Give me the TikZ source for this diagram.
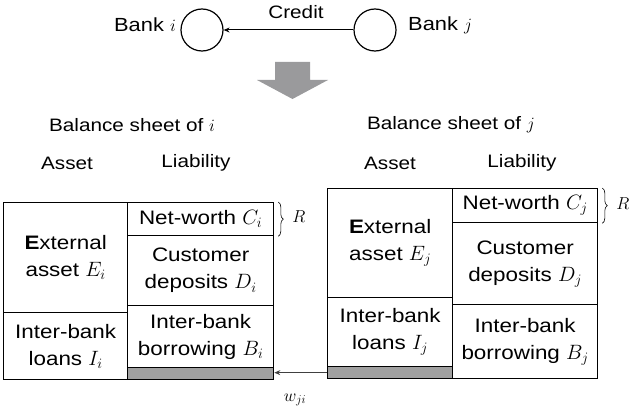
\documentclass[tikz,border=0pt]{standalone}
\usepackage{fontspec}
\setmainfont{Liberation Sans}
\newfontfamily\cellfont{Liberation Sans}[FakeStretch=1.15]
\usetikzlibrary{decorations.pathreplacing,arrows.meta}
\definecolor{band}{HTML}{A0A0A0}
\definecolor{bigarrow}{HTML}{9A9A9C}
\begin{document}
\begin{tikzpicture}[x=1pt,y=-1pt,
  lbl/.style={font=\cellfont\fontsize{18}{21}\selectfont, inner sep=0pt},
  banklbl/.style={font=\cellfont\fontsize{19}{22}\selectfont, inner sep=0pt},
  bank/.style={draw=black, line width=1.2pt, circle, minimum size=42pt, inner sep=0pt},
  cell/.style={draw=black, line width=1.3pt, anchor=north west, inner sep=0pt, align=center,
     font=\cellfont\fontsize{19.5}{27}\selectfont},
  grayband/.style={cell, fill=band},
  bracestyle/.style={decorate, decoration={brace, amplitude=5pt}, line width=0.6pt},
  link/.style={line width=1.2pt, -{Stealth[length=6pt,width=5pt]}}
]
\useasboundingbox (0,0) rectangle (640,412);

% top banks
\node[bank] (ci) at (202,30) {};
\node[bank] (cj) at (375,30) {};
\node[banklbl, anchor=east] (bi) at (176,25) {Bank $i$};
\node[banklbl, anchor=west] (bj) at (408,25) {Bank $j$};
\node[lbl] (credit) at (296,12) {Credit};
\draw[link, line width=1pt] (cj) -- (ci);

% big gray arrow
\fill[bigarrow] (275,62) -- (310,62) -- (310,80) -- (328,80) -- (292.5,99) -- (257,80) -- (275,80) -- cycle;

% headings
\node[lbl] (hi) at (132,125) {Balance sheet of $i$};
\node[lbl] (hj) at (451,125) {Balance sheet of $j$};
\node[lbl] (ai) at (67,163) {Asset};
\node[lbl] (li) at (196,163) {Liability};
\node[lbl] (aj) at (390,163) {Asset};
\node[lbl] (lj) at (522,163) {Liability};

% left balance sheet (bank i)
\node[cell, minimum width=124pt, minimum height=110pt] (Lext) at (3,202) {\textbf{E}xternal\\asset $E_i$};
\node[cell, minimum width=124pt, minimum height=67pt] (Lloan) at (3,312) {Inter-bank\\loans $I_i$};
\node[cell, minimum width=146pt, minimum height=33pt] (Lnet) at (127,202) {Net-worth $C_i$};
\node[cell, minimum width=146pt, minimum height=70pt] (Ldep) at (127,235) {Customer\\deposits $D_i$};
\node[cell, minimum width=146pt, minimum height=62pt] (Lbor) at (127,305) {Inter-bank\\borrowing $B_i$};
\node[grayband, minimum width=146pt, minimum height=12pt] (Lgray) at (127,367) {};

% right balance sheet (bank j)
\node[cell, minimum width=125pt, minimum height=109pt] (Rext) at (327,188) {\textbf{E}xternal\\asset $E_j$};
\node[cell, minimum width=125pt, minimum height=69pt] (Rloan) at (327,297) {Inter-bank\\loans $I_j$};
\node[grayband, minimum width=125pt, minimum height=12pt] (Rgray) at (327,366) {};
\node[cell, minimum width=145pt, minimum height=34pt] (Rnet) at (452,188) {Net-worth $C_j$};
\node[cell, minimum width=145pt, minimum height=82pt] (Rdep) at (452,222) {Customer\\deposits $D_j$};
\node[cell, minimum width=145pt, minimum height=74pt] (Rbor) at (452,304) {Inter-bank\\borrowing $B_j$};

% braces
\coordinate (lbt) at ([xshift=4pt]Lnet.north east);
\coordinate (lbb) at ([xshift=4pt]Lnet.south east);
\draw[bracestyle] (lbt) -- (lbb);
\node[lbl] (Ri) at (299,217) {$R$};
\coordinate (rbt) at ([xshift=4pt]Rnet.north east);
\coordinate (rbb) at ([xshift=4pt]Rnet.south east);
\draw[bracestyle] (rbt) -- (rbb);
\node[lbl] (Rj) at (623,204) {$R$};

% inter-bank exposure arrow
\draw[link, draw=black!75] (Rgray.west) -- (Rgray.west -| Lgray.east);
\node[lbl] (w) at (295,400) {$w_{ji}$};
\end{tikzpicture}
\end{document}
